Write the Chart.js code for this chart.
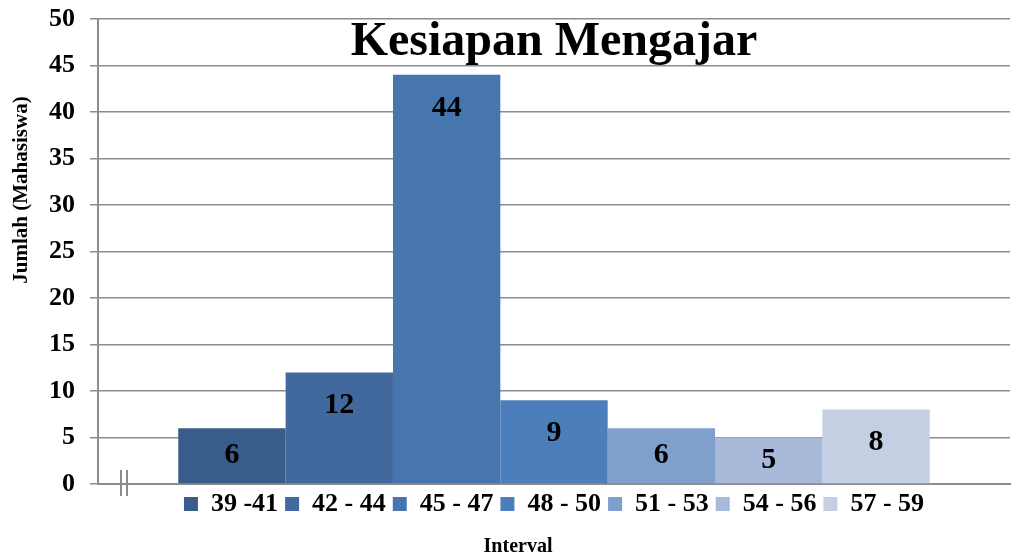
<!DOCTYPE html>
<html>
<head>
<meta charset="utf-8">
<script src="https://cdn.jsdelivr.net/npm/chart.js@4/dist/chart.umd.min.js"></script>
<style>
  body { margin: 0; background: #fff; }
</style>
</head>
<body>
<canvas id="myChart" width="1011" height="557"></canvas>
<script>
// data
const intervals = ["39 -41", "42 - 44", "45 - 47", "48 - 50", "51 - 53", "54 - 56", "57 - 59"];
const jumlah = [6, 12, 44, 9, 6, 5, 8];
const barColors = ["#385d8a", "#41699e", "#4776ae", "#4b7ebb", "#7f9fcc", "#a8b9d9", "#c4cfe3"];
const yTicks = [0, 5, 10, 15, 20, 25, 30, 35, 40, 45, 50];

const serif = "'Liberation Serif', 'Times New Roman', serif";
Chart.defaults.font.family = serif;
Chart.defaults.color = "#000";

const datasets = intervals.map((name, i) => ({
  label: name,
  data: [jumlah[i]],
  backgroundColor: barColors[i],
  borderWidth: 0,
  categoryPercentage: 0.824,
  barPercentage: 1
}));

// title inside the plot, axis titles, value labels, axis break mark
const extras = {
  id: "extras",
  afterDatasetsDraw(chart) {
    const ctx = chart.ctx;
    const area = chart.chartArea;
    ctx.save();
    ctx.fillStyle = "#000";
    ctx.textAlign = "center";

    // value labels
    ctx.font = "bold 30px " + serif;
    ctx.textBaseline = "middle";
    chart.data.datasets.forEach((ds, i) => {
      const bar = chart.getDatasetMeta(i).data[0];
      const mid = (bar.y + bar.base) / 2;
      const y = Math.min(bar.y + 33, mid);
      ctx.fillText(ds.data[0], bar.x, y);
    });

    // chart title
    ctx.font = "bold 48px " + serif;
    ctx.textBaseline = "alphabetic";
    ctx.fillText("Kesiapan Mengajar", (area.left + area.right) / 2, 55);

    // x title
    ctx.font = "bold 20px " + serif;
    ctx.textBaseline = "middle";
    ctx.fillText("Interval", 518, 547);

    // y title
    ctx.save();
    ctx.translate(22, 190);
    ctx.rotate(-Math.PI / 2);
    ctx.font = "bold 21px " + serif;
    ctx.fillText("Jumlah (Mahasiswa)", 0, 0);
    ctx.restore();

    // break mark on x axis
    ctx.strokeStyle = "#8c8c8c";
    ctx.lineWidth = 2;
    [23, 29].forEach(dx => {
      ctx.beginPath();
      ctx.moveTo(area.left + dx, area.bottom - 14);
      ctx.lineTo(area.left + dx, area.bottom + 12);
      ctx.stroke();
    });
    ctx.restore();
  }
};

const ctx = document.getElementById("myChart").getContext("2d");
const chart = new Chart(ctx, {
  type: "bar",
  data: {
    labels: [""],
    datasets: datasets
  },
  options: {
    responsive: false,
    animation: false,
    layout: { padding: { top: 19, left: 40, right: 1, bottom: 30 } },
    plugins: {
      tooltip: { enabled: false },
      legend: {
        position: "bottom",
        fullSize: false,
        labels: {
          boxWidth: 14,
          boxHeight: 14,
          padding: 7,
          color: "#000",
          font: { size: 26, weight: "bold" }
        }
      }
    },
    scales: {
      x: {
        afterFit: s => { s.height = 0; },
        grid: { display: false },
        ticks: { display: false },
        border: { display: true, color: "#8c8c8c", width: 2 }
      },
      y: {
        min: 0,
        max: 50,
        afterBuildTicks: s => { s.ticks = yTicks.map(v => ({ value: v })); },
        afterFit: s => {
          s.width = 58;
          s.paddingTop = 0;
          s.paddingBottom = 0;
        },
        ticks: {
          padding: 15,
          color: "#000",
          font: { size: 26, weight: "bold" }
        },
        grid: { color: "#8c8c8c", lineWidth: 1.5, tickLength: 8 },
        border: { color: "#8c8c8c", width: 2 }
      }
    }
  },
  plugins: [extras]
});
</script>
</body>
</html>
